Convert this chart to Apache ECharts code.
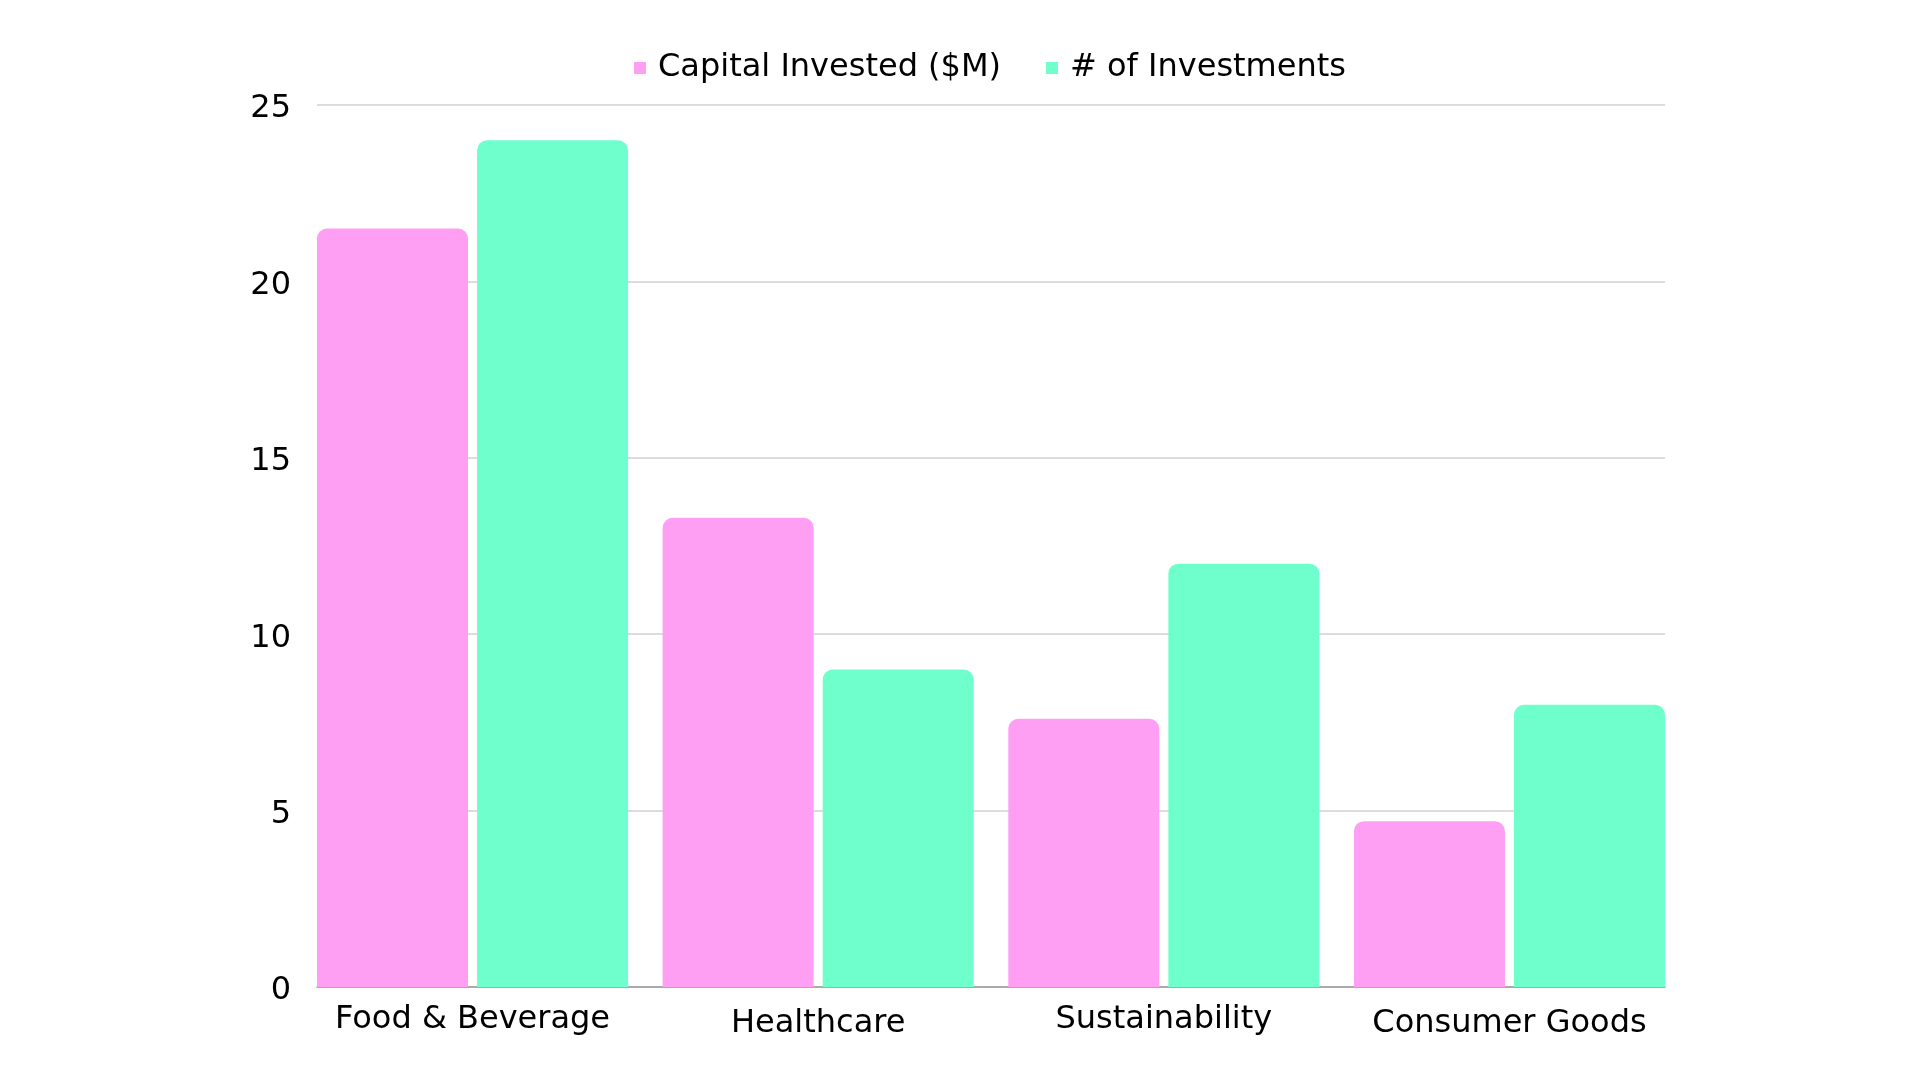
<!DOCTYPE html>
<html>
<head>
<meta charset="utf-8">
<script src="https://cdn.jsdelivr.net/npm/echarts@6/dist/echarts.min.js"></script>
<style>
html,body{margin:0;padding:0;background:#fff;}
#chart{width:1920px;height:1080px;}
</style>
</head>
<body>
<div id="chart"></div>
<script>
const categories = ['Food & Beverage', 'Healthcare', 'Sustainability', 'Consumer Goods'];
const capitalInvested = [21.5, 13.3, 7.6, 4.7];
const numInvestments = [24, 9, 12, 8];
const seriesNames = ['Capital Invested ($M)', '# of Investments'];
const yTicks = { min: 0, max: 25, interval: 5 };

const FONT = "'DejaVu Sans', 'Open Sans', sans-serif";
const PINK = '#FF9FF4';
const GREEN = '#6EFFCD';

const chart = echarts.init(document.getElementById('chart'));
chart.setOption({
  backgroundColor: '#ffffff',
  animation: false,
  legend: {
    left: 629,
    top: 43,
    itemWidth: 12,
    itemHeight: 12,
    itemGap: 45,
    icon: 'rect',
    textStyle: { fontFamily: FONT, fontSize: 32, color: '#000', lineHeight: 40, padding: [0, 0, 0, 7] },
    data: seriesNames
  },
  grid: [
    { left: 317, right: 255, top: 105, bottom: 93 },
    { left: 299.7, right: 237.7, top: 105, bottom: 93 }
  ],
  xAxis: [
    {
      gridIndex: 0, type: 'category', data: categories,
      axisLine: { show: true, lineStyle: { color: '#999', width: 1.5 } },
      axisTick: { show: false }, axisLabel: { show: false }, splitLine: { show: false }
    },
    {
      gridIndex: 1, type: 'category', data: categories, position: 'bottom',
      axisLine: { show: false }, axisTick: { show: false },
      axisLabel: {
        show: true, fontFamily: FONT, fontSize: 32, color: '#000', margin: 17,
        interval: (i) => i % 2 === 0
      }
    },
    {
      gridIndex: 1, type: 'category', data: categories, position: 'bottom', offset: 3.5,
      axisLine: { show: false }, axisTick: { show: false },
      axisLabel: {
        show: true, fontFamily: FONT, fontSize: 32, color: '#000', margin: 17,
        interval: (i) => i % 2 === 1
      }
    }
  ],
  yAxis: [
    {
      gridIndex: 0, type: 'value', min: yTicks.min, max: yTicks.max, interval: yTicks.interval,
      axisLine: { show: false }, axisTick: { show: false },
      axisLabel: {
        margin: 26,
        formatter: (v) => '{v|' + v + '}',
        rich: { v: { fontFamily: FONT, fontSize: 32, color: '#000', padding: [8, 0, 0, 0] } }
      },
      splitLine: { show: true, lineStyle: { color: '#d0d0d0', width: 1.5 } }
    },
    {
      gridIndex: 1, type: 'value', min: yTicks.min, max: yTicks.max, interval: yTicks.interval,
      show: false
    }
  ],
  series: [
    {
      name: seriesNames[0], type: 'bar', xAxisIndex: 1, yAxisIndex: 1,
      data: capitalInvested, barGap: '6%', barCategoryGap: '10%',
      itemStyle: { color: PINK, borderRadius: [10, 10, 0, 0] }
    },
    {
      name: seriesNames[1], type: 'bar', xAxisIndex: 1, yAxisIndex: 1,
      data: numInvestments, barGap: '6%', barCategoryGap: '10%',
      itemStyle: { color: GREEN, borderRadius: [10, 10, 0, 0] }
    }
  ]
});
</script>
</body>
</html>
